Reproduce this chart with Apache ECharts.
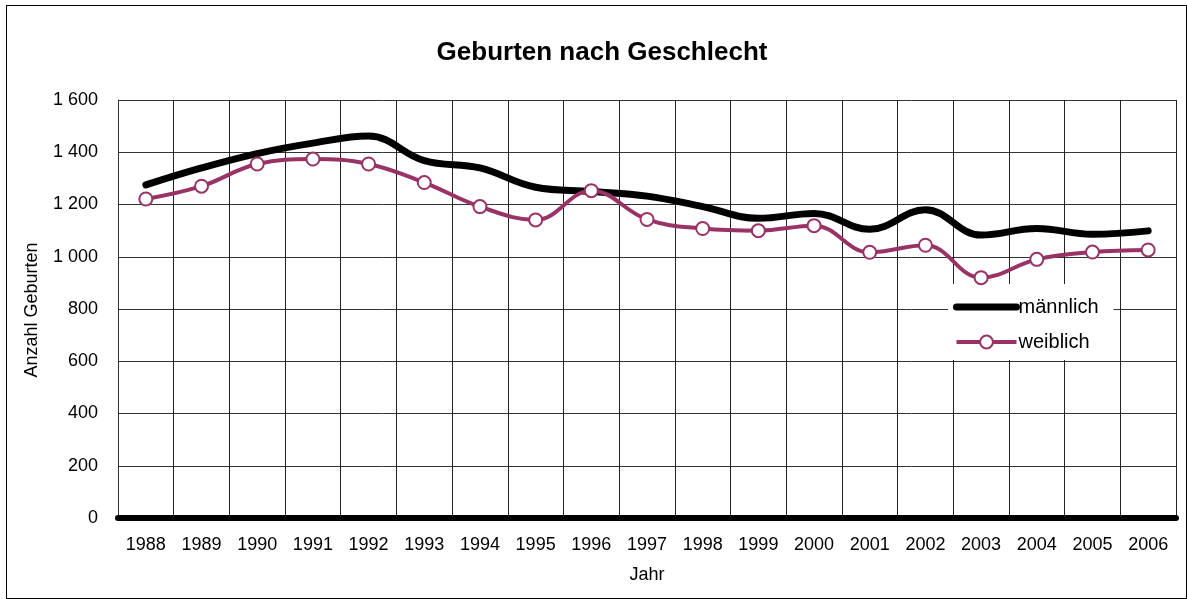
<!DOCTYPE html>
<html>
<head>
<meta charset="utf-8">
<script src="https://cdn.jsdelivr.net/npm/echarts@6/dist/echarts.min.js"></script>
<style>
html, body { margin: 0; padding: 0; background: #fff; }
#frame {
    position: absolute; left: 6px; top: 5px;
    width: 1179px; height: 592px;
    border: 1px solid #000;
}
#chart { position: absolute; left: 0; top: 0; width: 1187px; height: 599px; }
</style>
</head>
<body>
<div id="frame"></div>
<div id="chart"></div>
<script>
var years = ['1988', '1989', '1990', '1991', '1992', '1993', '1994', '1995', '1996', '1997',
             '1998', '1999', '2000', '2001', '2002', '2003', '2004', '2005', '2006'];
var maennlich = [1275, 1340, 1395, 1435, 1462, 1368, 1340, 1266, 1250, 1232,
                 1192, 1147, 1166, 1105, 1180, 1083, 1108, 1086, 1099];
var weiblich = [1221, 1270, 1355, 1374, 1355, 1284, 1192, 1141, 1253, 1143,
                1108, 1100, 1119, 1017, 1044, 920, 990, 1018, 1026];

var chart = echarts.init(document.getElementById('chart'));
var font = 'Liberation Sans, Arial, sans-serif';

var option = {
    backgroundColor: 'transparent',
    animation: false,
    title: {
        text: 'Geburten nach Geschlecht',
        left: 597, top: 35, textAlign: 'center',
        textStyle: { fontFamily: font, fontSize: 26, fontWeight: 'bold', color: '#000' }
    },
    legend: {
        left: 948, top: 284,
        orient: 'vertical',
        itemGap: 13,
        itemWidth: 60, itemHeight: 16,
        backgroundColor: '#fff',
        padding: [12, 15, 7, 5],
        lineStyle: { width: 'inherit' },
        textStyle: { fontFamily: font, fontSize: 20, lineHeight: 20, color: '#000', padding: [2, 0, 0, -3] },
        data: [
            { name: 'männlich', itemStyle: { opacity: 0 } },
            { name: 'weiblich' }
        ]
    },
    graphic: [{
        type: 'text',
        x: 32, y: 310,
        rotation: Math.PI / 2,
        style: {
            text: 'Anzahl Geburten',
            font: '18px Liberation Sans, Arial, sans-serif',
            fill: '#000',
            align: 'center',
            verticalAlign: 'middle'
        }
    }],
    grid: { left: 118, right: 11, top: 100, bottom: 81 },
    xAxis: {
        type: 'category',
        data: years,
        boundaryGap: true,
        name: 'Jahr',
        nameLocation: 'middle',
        nameGap: 48,
        nameTextStyle: { fontFamily: font, fontSize: 18, color: '#000' },
        axisLine: { lineStyle: { color: '#000', width: 6, cap: 'round' } },
        axisTick: { show: false },
        axisLabel: { fontFamily: font, fontSize: 18, color: '#000', margin: 18 },
        splitLine: { show: true, lineStyle: { color: '#222', width: 1 } }
    },
    yAxis: {
        type: 'value',
        min: 0, max: 1600, interval: 200,
        axisLine: { show: true, lineStyle: { color: '#333', width: 1 } },
        axisTick: { show: false },
        axisLabel: {
            fontFamily: font, fontSize: 18, color: '#000', margin: 20,
            formatter: function (v) {
                return v >= 1000 ? Math.floor(v / 1000) + ' ' + String(v % 1000).padStart(3, '0') : String(v);
            }
        },
        splitLine: { show: true, lineStyle: { color: '#333', width: 1 } }
    },
    series: [
        {
            name: 'männlich',
            type: 'line',
            data: maennlich,
            smooth: 0.4,
            symbol: 'none',
            lineStyle: { color: '#000', width: 7, cap: 'round' },
            itemStyle: { color: '#000' },
            z: 3
        },
        {
            name: 'weiblich',
            type: 'line',
            data: weiblich,
            smooth: 0.4,
            symbol: 'circle',
            symbolSize: 13,
            lineStyle: { color: '#993366', width: 4 },
            itemStyle: { color: '#fff', borderColor: '#993366', borderWidth: 2 },
            z: 4
        }
    ]
};
chart.setOption(option);
</script>
</body>
</html>
